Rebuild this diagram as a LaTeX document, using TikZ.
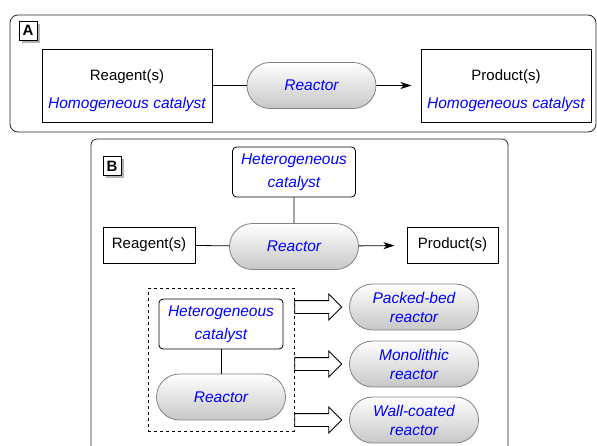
\documentclass[tikz,border=0pt]{standalone}
\usepackage{fontspec}
\setmainfont{Liberation Sans}
\usetikzlibrary{shapes,arrows,arrows.meta,positioning,fit,shadows}

\tikzset{
  >={Stealth[length=11pt,width=7pt,inset=3pt]},
  panel/.style={draw=black!85, line width=0.8pt},
  tag/.style={draw, line width=0.8pt, fill=white, inner sep=0pt, minimum width=18pt, minimum height=19pt,
    font=\fontsize{15pt}{18pt}\selectfont\bfseries,
    drop shadow={shadow xshift=2.5pt, shadow yshift=-2.5pt, fill=gray!60, opacity=1}},
  box/.style={draw, rectangle, line width=1pt, align=center, inner sep=0pt, font=\fontsize{15pt}{28pt}\selectfont},
  catbox/.style={draw, rectangle, rounded corners=4pt, line width=0.8pt, align=center, inner sep=0pt,
    minimum width=123pt, minimum height=50pt, text=blue, font=\fontsize{15.5pt}{23pt}\selectfont\itshape},
  pill/.style={draw=black!50, rounded rectangle, line width=0.8pt, top color=white, bottom color=black!22,
    minimum width=129pt, minimum height=46pt, inner sep=0pt, align=center, text=blue,
    font=\fontsize{15.5pt}{19pt}\selectfont\itshape},
  fat/.style={draw, single arrow, single arrow head extend=6.5pt, minimum height=47pt, inner sep=6pt,
    line width=0.8pt, fill=white},
  link/.style={line width=0.8pt}
}
\newcommand{\homcat}{\textcolor{blue}{\fontsize{15.5pt}{28pt}\selectfont\itshape Homogeneous catalyst}}

\begin{document}
\begin{tikzpicture}[x=1pt, y=-1pt]
    \useasboundingbox (0,0) rectangle (597,445);

    % panel A
    \draw[panel, rounded corners=8pt] (10,15) rectangle (596,132);
    \node[tag] (tagA) at (28,30.5) {A};
    \node[box, minimum width=170pt, minimum height=73pt] (reagA) at (127,85.5) {\rule{0pt}{21pt}Reagent(s) \\ \homcat};
    \node[pill] (reacA) at (311.5,85.5) {Reactor};
    \node[box, minimum width=170pt, minimum height=73pt] (prodA) at (506,85.5) {\rule{0pt}{21pt}Product(s) \\ \homcat};

    \draw[link] (reagA) -- (reacA);
    \draw[link, ->, shorten >=9pt] (reacA) -- (prodA);

    % panel B
    \draw[panel, rounded corners=6pt] (91,447) -- (91,139) -- (508,139) -- (508,447);
    \node[tag] (tagB) at (112,166) {B};
    \node[catbox] (hetB) at (294,172) {Heterogeneous \\ catalyst};
    \node[pill] (reacB) at (294,246.5) {Reactor};
    \node[box, minimum width=92pt, minimum height=36pt] (reagB) at (149,245) {Reagent(s)};
    \node[box, minimum width=91pt, minimum height=36pt] (prodB) at (452.5,245) {Product(s)};

    \draw[link] (hetB) -- (reacB);
    \draw[link] (reagB) -- (reacB);
    \draw[link, ->, shorten >=12pt] (reacB) -- (prodB);

    % reactor types
    \node[catbox, minimum width=124pt] (hetC) at (221,324) {Heterogeneous \\ catalyst};
    \node[pill] (reacC) at (221,397) {Reactor};
    \draw[link] (hetC) -- (reacC);
    \node[draw, dashed, line width=0.8pt, inner xsep=8pt, inner ysep=10.5pt, fit=(hetC)(reacC)] (grp) {};

    \node[pill] (bed) at (414,307) {Packed-bed \\ reactor};
    \node[pill] (mono) at (414,364) {Monolithic \\ reactor};
    \node[pill] (wall) at (414,420) {Wall-coated \\ reactor};

    \node[fat, anchor=tail] (toBed) at (grp.east |- bed) {};
    \node[fat, anchor=tail] (toMono) at (grp.east |- mono) {};
    \node[fat, anchor=tail] (toWall) at (grp.east |- wall) {};
\end{tikzpicture}
\end{document}
